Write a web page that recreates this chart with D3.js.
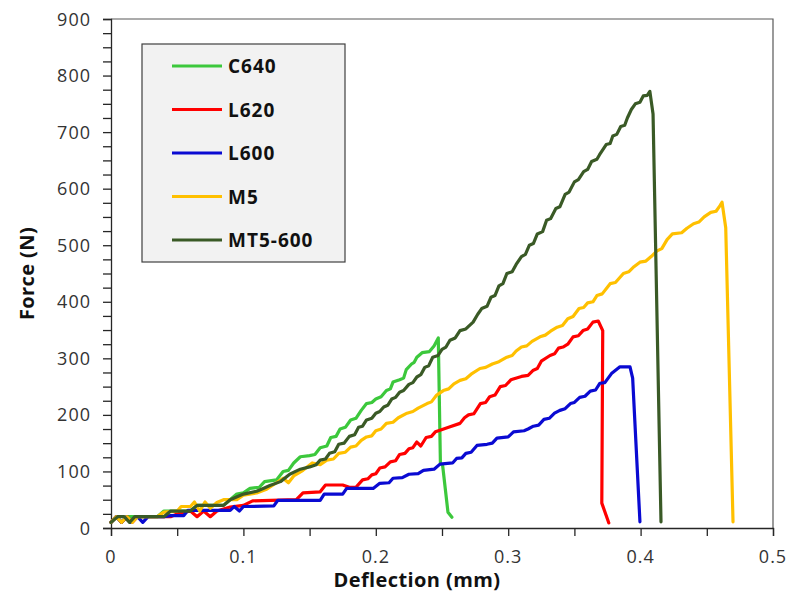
<!DOCTYPE html>
<html>
<head>
<meta charset="utf-8">
<script src="https://cdn.jsdelivr.net/npm/d3@7"></script>
<style>
  body { margin: 0; background: #fff; }
  text { font-family: "Open Sans", "DejaVu Sans", sans-serif; }
</style>
</head>
<body>
<div id="graph_box"></div>
<script>
// series names + colours
const names = ["C640", "L620", "L600", "M5", "MT5-600"];
const colors = ["#3cc83c", "#ff0000", "#0a0ad2", "#ffc000", "#3a5a26"];

// [deflection mm, force N] (stepped load readings)
const c640 = [[0,10],[0.004,20],[0.008,10],[0.012,20],[0.035,20],[0.04,30],[0.06,30],[0.065,40],[0.085,40],[0.09,50],[0.095,60],[0.1,62],[0.105,70],[0.112,72],[0.116,82],[0.125,85],[0.13,100],[0.134,102],[0.138,115],[0.143,126],[0.15,128],[0.154,130],[0.158,142],[0.163,145],[0.166,160],[0.17,162],[0.173,175],[0.177,178],[0.181,191],[0.185,194],[0.189,208],[0.193,220],[0.197,222],[0.2,228],[0.204,232],[0.208,243],[0.211,246],[0.213,258],[0.218,262],[0.221,265],[0.223,280],[0.227,290],[0.229,293],[0.231,302],[0.235,310],[0.2405,312],[0.244,322],[0.2472,336],[0.2488,115],[0.2505,110],[0.2545,28],[0.2575,19]];
const l620 = [[0,10],[0.004,20],[0.008,10],[0.012,20],[0.016,10],[0.02,20],[0.045,20],[0.05,25],[0.06,30],[0.065,20],[0.07,30],[0.075,20],[0.08,30],[0.09,37],[0.1,40],[0.107,48],[0.14,50],[0.145,62],[0.158,64],[0.162,76],[0.175,76],[0.18,72],[0.185,72],[0.19,85],[0.194,87],[0.197,94],[0.2,96],[0.203,106],[0.207,108],[0.211,117],[0.215,119],[0.218,130],[0.222,132],[0.225,140],[0.228,142],[0.231,152],[0.234,145],[0.238,160],[0.242,162],[0.245,170],[0.2485,173],[0.255,178],[0.2636,185],[0.267,195],[0.27,200],[0.274,202],[0.279,220],[0.283,222],[0.286,232],[0.29,235],[0.294,250],[0.298,252],[0.302,262],[0.31,268],[0.315,270],[0.319,279],[0.322,282],[0.325,295],[0.3316,305],[0.335,308],[0.338,318],[0.3414,320],[0.345,325],[0.349,338],[0.353,340],[0.3565,349],[0.36,352],[0.364,364],[0.368,366],[0.3714,349],[0.3707,44],[0.376,9]];
const l600 = [[0,10],[0.004,20],[0.008,10],[0.012,20],[0.015,10],[0.02,20],[0.024,10],[0.028,20],[0.04,20],[0.045,22],[0.055,22],[0.058,31],[0.09,31],[0.093,38],[0.097,30],[0.1,38],[0.123,39],[0.126,49],[0.158,49],[0.161,60],[0.175,60],[0.178,70],[0.198,70],[0.203,79],[0.21,80],[0.213,88],[0.22,89],[0.225,95],[0.232,96],[0.236,102],[0.244,104],[0.2485,113],[0.258,115],[0.261,123],[0.265,124],[0.268,132],[0.272,134],[0.2764,146],[0.284,148],[0.288,150],[0.2915,159],[0.3,161],[0.304,170],[0.312,172],[0.315,175],[0.319,180],[0.323,182],[0.327,192],[0.331,194],[0.335,203],[0.339,208],[0.343,211],[0.347,220],[0.35,222],[0.354,231],[0.358,233],[0.362,242],[0.366,244],[0.3693,256],[0.373,257],[0.378,273],[0.3844,285],[0.392,285],[0.394,265],[0.3995,11]];
const m5 = [[0,10],[0.004,20],[0.008,10],[0.012,20],[0.016,10],[0.02,20],[0.035,20],[0.04,28],[0.05,30],[0.053,38],[0.06,38],[0.063,46],[0.067,30],[0.071,46],[0.075,35],[0.08,45],[0.085,50],[0.095,50],[0.1,58],[0.11,62],[0.117,68],[0.125,80],[0.13,88],[0.134,80],[0.138,92],[0.145,102],[0.152,115],[0.158,112],[0.163,120],[0.168,122],[0.172,132],[0.177,134],[0.181,143],[0.185,145],[0.189,155],[0.193,161],[0.197,163],[0.2,172],[0.204,175],[0.208,185],[0.213,187],[0.217,195],[0.2236,203],[0.228,206],[0.232,212],[0.2387,220],[0.242,223],[0.246,235],[0.251,243],[0.255,246],[0.259,255],[0.2636,261],[0.268,264],[0.272,272],[0.2787,282],[0.283,284],[0.288,290],[0.293,294],[0.299,302],[0.303,305],[0.306,313],[0.31,320],[0.314,322],[0.318,330],[0.324,338],[0.328,341],[0.332,348],[0.337,355],[0.341,358],[0.345,370],[0.349,374],[0.3535,388],[0.357,390],[0.36,398],[0.364,400],[0.367,411],[0.371,414],[0.377,432],[0.381,434],[0.387,450],[0.391,453],[0.395,462],[0.3995,470],[0.404,472],[0.408,480],[0.4124,490],[0.416,494],[0.42,510],[0.424,520],[0.431,522],[0.435,530],[0.44,538],[0.444,541],[0.448,550],[0.453,558],[0.457,560],[0.46,570],[0.4615,576],[0.4643,531],[0.4698,11]];
const mt5600 = [[0,10],[0.005,20],[0.01,20],[0.014,10],[0.018,20],[0.04,20],[0.045,30],[0.06,30],[0.065,40],[0.085,40],[0.09,50],[0.1,60],[0.11,65],[0.115,70],[0.12,75],[0.128,82],[0.135,95],[0.143,104],[0.15,108],[0.155,112],[0.158,120],[0.162,122],[0.165,132],[0.169,135],[0.172,148],[0.176,150],[0.18,162],[0.184,165],[0.187,178],[0.19,180],[0.193,191],[0.197,194],[0.2,203],[0.203,206],[0.206,214],[0.209,217],[0.212,228],[0.215,231],[0.218,240],[0.221,243],[0.225,254],[0.228,257],[0.231,267],[0.234,271],[0.237,284],[0.24,287],[0.243,302],[0.247,305],[0.25,316],[0.253,320],[0.256,332],[0.26,336],[0.2636,349],[0.268,352],[0.2735,364],[0.277,378],[0.28,388],[0.284,392],[0.287,408],[0.29,411],[0.293,428],[0.296,432],[0.299,450],[0.303,453],[0.306,466],[0.31,480],[0.313,484],[0.316,500],[0.319,503],[0.322,520],[0.326,524],[0.329,544],[0.332,547],[0.336,565],[0.339,568],[0.343,590],[0.346,594],[0.35,612],[0.353,616],[0.357,630],[0.36,634],[0.363,648],[0.367,652],[0.369,660],[0.374,678],[0.377,680],[0.379,693],[0.382,696],[0.385,710],[0.388,712],[0.39,725],[0.393,740],[0.396,750],[0.3995,753],[0.402,764],[0.405,765],[0.407,772],[0.4094,732],[0.4154,11]];
const allSeries = [c640, l620, l600, m5, mt5600];

const xTicks = [0, 0.1, 0.2, 0.3, 0.4, 0.5];
const yTicks = [0, 100, 200, 300, 400, 500, 600, 700, 800, 900];

const W = 787, H = 593;
const margin = { top: 19, right: 14, bottom: 65, left: 111 };

const svg = d3.select("#graph_box").append("svg")
    .attr("width", W).attr("height", H);

const x = d3.scaleLinear().domain([0, 0.5]).range([margin.left, W - margin.right]);
const y = d3.scaleLinear().domain([0, 900]).range([H - margin.bottom, margin.top]);

// plot frame (top + right)
svg.append("path")
    .attr("d", `M${x(0)},${y(900)}H${x(0.5)}V${y(0)}`)
    .attr("fill", "none").attr("stroke", "#595959").attr("stroke-width", 1.2);

// x axis, minor ticks every 0.05
const xAxis = svg.append("g")
    .attr("transform", `translate(0,${y(0)})`)
    .call(d3.axisBottom(x).tickValues(d3.range(0, 11).map(i => i * 0.05)).tickSize(8).tickFormat(""));
xAxis.selectAll("path, line").attr("stroke", "#262626").attr("stroke-width", 1.3);
svg.append("g").selectAll("text").data(xTicks).enter().append("text")
    .attr("x", d => x(d)).attr("y", y(0) + 35)
    .attr("text-anchor", "middle")
    .style("font-size", "18px").style("fill", "#333").style("letter-spacing", "1px")
    .text(d => d);

// y axis, minor ticks every 25
const yAxis = svg.append("g")
    .attr("transform", `translate(${x(0)},0)`)
    .call(d3.axisLeft(y).tickValues(d3.range(0, 37).map(i => i * 25)).tickSize(8).tickFormat(""));
yAxis.selectAll("path, line").attr("stroke", "#262626").attr("stroke-width", 1.3);
svg.append("g").selectAll("text").data(yTicks).enter().append("text")
    .attr("x", 91).attr("y", d => y(d) + 6.5)
    .attr("text-anchor", "end")
    .style("font-size", "18px").style("fill", "#333").style("letter-spacing", "1px")
    .text(d => d);

// axis titles
svg.append("text")
    .attr("x", 417).attr("y", 587)
    .attr("text-anchor", "middle")
    .style("font-size", "20px").style("font-weight", "bold").style("fill", "#111")
    .style("letter-spacing", "0.4px")
    .text("Deflection (mm)");
svg.append("text")
    .attr("transform", `translate(34,${(y(0) + y(900)) / 2}) rotate(-90)`)
    .attr("text-anchor", "middle")
    .style("font-size", "20px").style("font-weight", "bold").style("fill", "#111")
    .style("letter-spacing", "0.4px")
    .text("Force (N)");

// curves
const line = d3.line().x(d => x(d[0])).y(d => y(d[1]));
svg.append("g").selectAll("path").data(allSeries).enter().append("path")
    .attr("d", line)
    .attr("fill", "none")
    .attr("stroke", (d, i) => colors[i])
    .attr("stroke-width", 3.2)
    .attr("stroke-linejoin", "round")
    .attr("stroke-linecap", "round");

// legend
const lg = svg.append("g");
lg.append("rect")
    .attr("x", 142).attr("y", 44).attr("width", 203).attr("height", 218)
    .attr("fill", "#f2f2f2").attr("stroke", "#404040").attr("stroke-width", 1.2);
names.forEach((n, i) => {
    const ly = 66 + i * 43.5;
    lg.append("line").attr("x1", 172).attr("x2", 222).attr("y1", ly).attr("y2", ly)
        .attr("stroke", colors[i]).attr("stroke-width", 3.2);
    lg.append("text").attr("x", 228).attr("y", ly + 7)
        .style("font-size", "19px").style("font-weight", "bold").style("fill", "#111")
        .style("letter-spacing", "1px")
        .text(n);
});
</script>
</body>
</html>
